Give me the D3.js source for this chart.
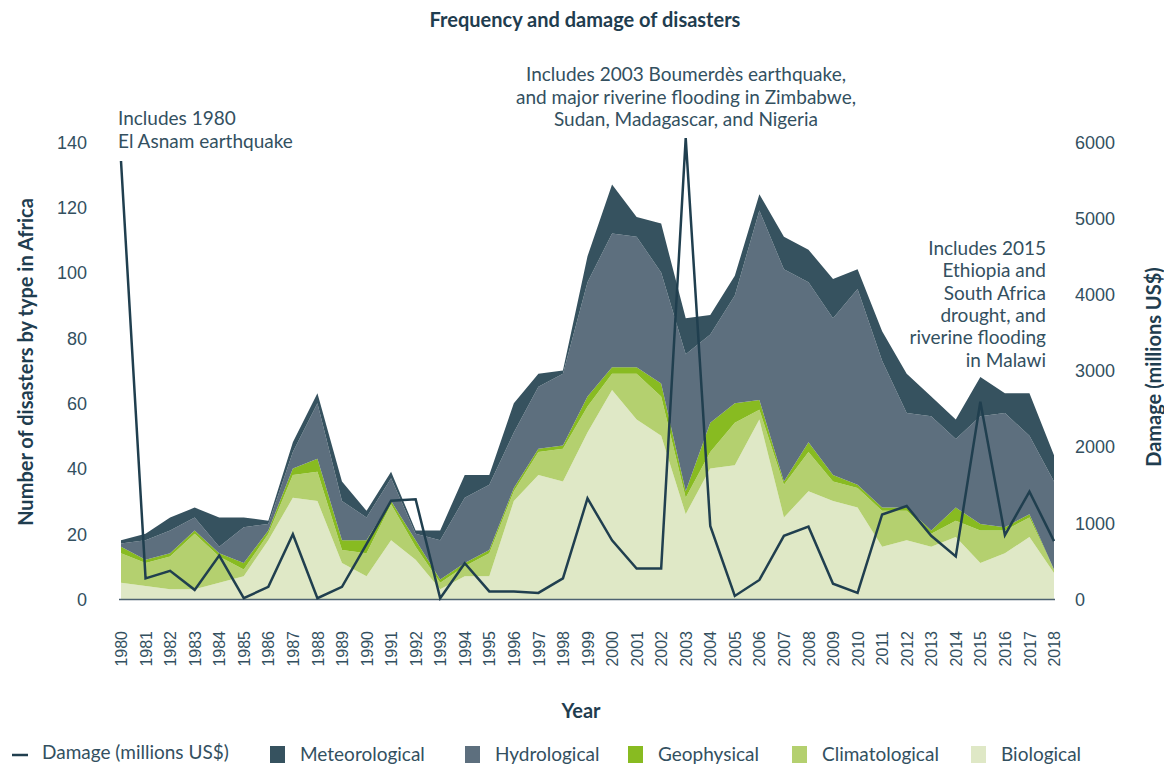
<!DOCTYPE html>
<html>
<head>
<meta charset="utf-8">
<script src="https://cdn.jsdelivr.net/npm/d3@7"></script>
<style>
  body { margin: 0; background: #fff; }
  svg { font-family: Lato, "Open Sans", sans-serif; }
  .tick text { fill: #33505f; font-size: 18px; }
  .note { fill: #33505f; font-size: 19px; }
  .axis-title { fill: #1f3d4f; font-size: 20px; font-weight: bold; }
</style>
</head>
<body>
<div id="chart"></div>
<script>
// years on the x axis
var years = d3.range(1980, 2019);

// number of disasters by type, one entry per year
var biological     = [5,4,3,3,5,7,18,31,30,11,7,18,12,3,7,7,30,38,36,51,64,55,50,26,40,41,55,25,33,30,28,16,18,16,19,11,14,19,8];
var climatological = [9,7,10,17,8,2,2,7,9,4,7,11,4,2,3,7,3,7,10,8,5,14,12,5,5,13,3,10,12,6,6,11,9,4,5,10,7,6,1];
var geophysical    = [2,1,1,1,1,2,1,2,4,3,4,1,2,1,1,1,1,1,1,3,2,2,4,2,9,6,3,1,3,2,1,1,1,1,4,2,1,1,0];
var hydrological   = [1,6,7,4,2,11,2,5,17,12,7,7,2,12,20,20,17,19,22,35,41,40,34,42,27,33,58,65,49,48,60,45,29,35,21,33,35,24,27];
var meteorological = [1,2,4,3,9,3,1,3,3,6,2,2,1,3,7,3,9,4,1,8,15,6,15,11,6,6,5,10,10,12,6,9,12,6,6,12,6,13,8];

// damage in millions US$
var damage = [5750,270,370,120,570,10,160,850,10,160,720,1290,1310,10,470,100,100,80,270,1320,770,400,400,6050,960,40,250,830,950,200,80,1110,1220,830,560,2590,840,1410,760];

var layerKeys   = ["biological","climatological","geophysical","hydrological","meteorological"];
var layerColors = ["#dfe8c6","#b4d06f","#88bb21","#5d6f7e","#36525f"];

var leftTicks  = [0,20,40,60,80,100,120,140];
var rightTicks = [0,1000,2000,3000,4000,5000,6000];

var W = 1164, H = 766;
var margin = {top: 142, right: 110, bottom: 167, left: 121};

var svg = d3.select("#chart").append("svg")
    .attr("width", W)
    .attr("height", H);

// build rows for the stack
var rows = years.map(function (yr, i) {
    return {
        year: yr,
        biological: biological[i],
        climatological: climatological[i],
        geophysical: geophysical[i],
        hydrological: hydrological[i],
        meteorological: meteorological[i],
        damage: damage[i]
    };
});

var x = d3.scaleLinear().domain([1980, 2018]).range([margin.left, W - margin.right]);
var y = d3.scaleLinear().domain([0, 140]).range([H - margin.bottom, margin.top]);
var y2 = d3.scaleLinear().domain([0, 6000]).range([H - margin.bottom, margin.top]);
var color = d3.scaleOrdinal().domain(layerKeys).range(layerColors);

var series = d3.stack().keys(layerKeys)(rows);

var area = d3.area()
    .x(function (d) { return x(d.data.year); })
    .y0(function (d) { return y(d[0]); })
    .y1(function (d) { return y(d[1]); });

svg.append("g").selectAll("path")
    .data(series)
    .enter().append("path")
        .attr("d", area)
        .attr("fill", function (d) { return color(d.key); });

// baseline
svg.append("line")
    .attr("x1", x(1980) - 2).attr("x2", x(2018) + 1)
    .attr("y1", y(0) + 0.5).attr("y2", y(0) + 0.5)
    .attr("stroke", "#4d6270").attr("stroke-width", 1.5);

// damage line
var line = d3.line()
    .x(function (d) { return x(d.year); })
    .y(function (d) { return y2(d.damage); });

svg.append("path")
    .datum(rows)
    .attr("d", line)
    .attr("fill", "none")
    .attr("stroke", "#203f4f")
    .attr("stroke-width", 2.5);

// axes
svg.append("g")
    .attr("transform", "translate(" + (margin.left - 34) + ",0)")
    .call(d3.axisLeft(y).tickValues(leftTicks).tickSize(0).tickPadding(0))
    .call(function (g) { g.select(".domain").remove(); })
    .selectAll("text").attr("dy", "0.35em");

svg.append("g")
    .attr("transform", "translate(" + (W - margin.right + 21) + ",0)")
    .call(d3.axisRight(y2).tickValues(rightTicks).tickFormat(d3.format("d")).tickSize(0).tickPadding(0))
    .call(function (g) { g.select(".domain").remove(); })
    .selectAll("text").attr("dy", "0.35em");

svg.append("g")
    .attr("transform", "translate(0," + (y(0) + 30) + ")")
    .call(d3.axisBottom(x).tickValues(years).tickFormat(d3.format("d")).tickSize(0).tickPadding(0))
    .call(function (g) { g.select(".domain").remove(); })
    .selectAll("text")
        .attr("transform", "rotate(-90)")
        .attr("text-anchor", "end")
        .attr("x", -2)
        .attr("y", 0)
        .attr("dy", "0.35em")
        .style("font-size", "16px");

// titles
svg.append("text")
    .attr("x", 585).attr("y", 27)
    .attr("text-anchor", "middle")
    .attr("class", "axis-title")
    .text("Frequency and damage of disasters");

svg.append("text")
    .attr("x", 581).attr("y", 718)
    .attr("text-anchor", "middle")
    .attr("class", "axis-title")
    .text("Year");

svg.append("text")
    .attr("transform", "translate(33,362) rotate(-90)")
    .attr("text-anchor", "middle")
    .attr("class", "axis-title")
    .text("Number of disasters by type in Africa");

svg.append("text")
    .attr("transform", "translate(1161,367) rotate(-90)")
    .attr("text-anchor", "middle")
    .attr("class", "axis-title")
    .text("Damage (millions US$)");

// annotations
function note(lines, px, py, anchor, lh) {
    var t = svg.append("text").attr("class", "note").attr("text-anchor", anchor);
    lines.forEach(function (s, i) {
        t.append("tspan").attr("x", px).attr("y", py + i * lh).text(s);
    });
}
note(["Includes 1980", "El Asnam earthquake"], 118, 125, "start", 23);
note(["Includes 2003 Boumerdès earthquake,", "and major riverine flooding in Zimbabwe,", "Sudan, Madagascar, and Nigeria"], 686, 81, "middle", 22.5);
note(["Includes 2015", "Ethiopia and", "South Africa", "drought, and", "riverine flooding", "in Malawi"], 1046, 255, "end", 22.3);

// legend
var leg = svg.append("g").attr("class", "legend");
leg.append("line")
    .attr("x1", 12).attr("x2", 28).attr("y1", 755).attr("y2", 755)
    .attr("stroke", "#203f4f").attr("stroke-width", 2.5);
leg.append("text").attr("class", "note").attr("x", 42).attr("y", 759).text("Damage (millions US$)");

var legItems = [
    {key: "meteorological", name: "Meteorological", x: 270},
    {key: "hydrological", name: "Hydrological", x: 465},
    {key: "geophysical", name: "Geophysical", x: 628},
    {key: "climatological", name: "Climatological", x: 792},
    {key: "biological", name: "Biological", x: 971}
];
legItems.forEach(function (d) {
    leg.append("rect")
        .attr("x", d.x).attr("y", 746).attr("width", 15).attr("height", 17)
        .attr("fill", color(d.key));
    leg.append("text").attr("class", "note")
        .attr("x", d.x + 30).attr("y", 761)
        .text(d.name);
});
</script>
</body>
</html>
